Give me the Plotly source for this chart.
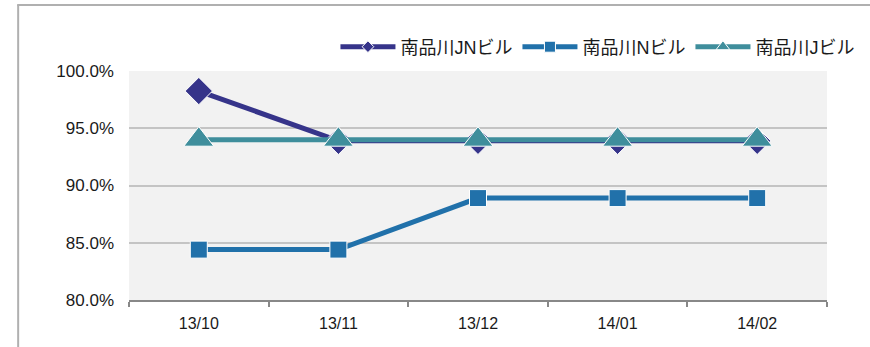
import plotly.graph_objects as go

# Monthly occupancy rates per building
months = ["13/10", "13/11", "13/12", "14/01", "14/02"]
jn_building = [0.9825, 0.939, 0.939, 0.939, 0.939]
n_building = [0.844, 0.844, 0.889, 0.889, 0.889]
j_building = [0.940, 0.940, 0.940, 0.940, 0.940]

series_names = ["南品川JNビル", "南品川Nビル", "南品川Jビル"]
colors = ["#36348a", "#2171aa", "#3f8e9c"]
symbols = ["diamond", "square", "triangle-up"]
plot_sizes = [21, 17, 26]
legend_sizes = [9, 11, 12]

W, H = 870, 347
ML, MR, MT, MB = 129, 42, 71, 47
PW, PH = W - ML - MR, H - MT - MB

font_family = "Liberation Sans, Arial, Noto Sans CJK JP, sans-serif"
narrow_family = "Liberation Sans Narrow, Arial Narrow, Liberation Sans, sans-serif"

fig = go.Figure()
for name, vals, c, s, sz in zip(series_names, [jn_building, n_building, j_building],
                                colors, symbols, plot_sizes):
    fig.add_trace(go.Scatter(
        x=months, y=vals, name=name, mode="lines+markers", showlegend=False,
        line=dict(color=c, width=5),
        marker=dict(symbol=s, size=sz, color=c, line=dict(color="white", width=1)),
    ))

# Legend entries with smaller marker glyphs
for name, c, s, sz in zip(series_names, colors, symbols, legend_sizes):
    fig.add_trace(go.Scatter(
        x=[None], y=[None], name=name, mode="lines+markers", showlegend=True,
        line=dict(color=c, width=5),
        marker=dict(symbol=s, size=sz, color=c, line=dict(color="white", width=1)),
    ))

def px_x(p):
    return (p - ML) / PW

def px_y(p):
    return 1 - (p - MT) / PH

# Outer chart border (left and top edges)
border = dict(color="#b0b0b0", width=2)
fig.add_shape(type="line", xref="paper", yref="paper",
              x0=px_x(18), x1=px_x(18), y0=px_y(5), y1=px_y(H + 5), line=border)
fig.add_shape(type="line", xref="paper", yref="paper",
              x0=px_x(17), x1=px_x(W + 5), y0=px_y(5), y1=px_y(5), line=border)

fig.update_layout(
    width=W, height=H,
    margin=dict(l=ML, r=MR, t=MT, b=MB),
    paper_bgcolor="white",
    plot_bgcolor="#f2f2f2",
    font=dict(family=font_family, size=17, color="#1a1a1a"),
    legend=dict(
        orientation="h", x=1.045, xanchor="right", y=px_y(47), yanchor="middle",
        font=dict(size=18, family=font_family), itemwidth=55,
        bgcolor="rgba(0,0,0,0)", traceorder="normal",
    ),
    xaxis=dict(
        type="category", tickson="boundaries", ticks="outside", ticklen=5,
        tickcolor="#888888", tickwidth=2,
        showline=True, linecolor="#888888", linewidth=2,
        showgrid=False, zeroline=False, range=[-0.5, 4.5],
        tickfont=dict(size=16, family=narrow_family), ticklabelstandoff=8,
    ),
    yaxis=dict(
        range=[0.8, 1.0], dtick=0.05, tickformat=".1%",
        showgrid=True, gridcolor="#c4c4c4", gridwidth=2,
        showline=False, zeroline=False, ticks="", ticklabelstandoff=14,
        tickfont=dict(size=17),
    ),
)

fig.write_html("out.html")
